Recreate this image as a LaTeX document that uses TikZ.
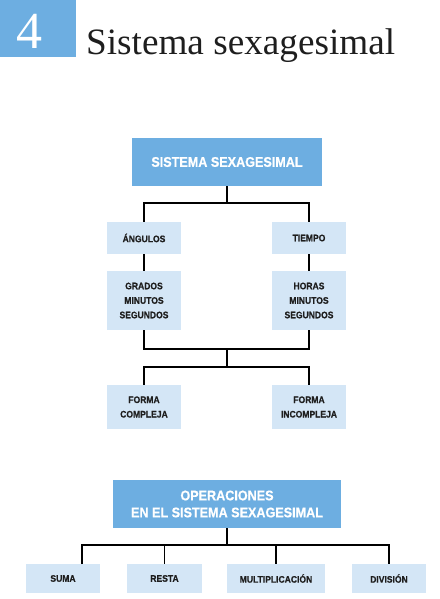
\documentclass[tikz,border=0pt]{standalone}
\usepackage{fontspec}
\setmainfont{Liberation Serif}
\newfontfamily\boxfont[FakeStretch=0.9,FakeBold=0.6]{Liberation Sans Bold}
\newfontfamily\numfont{Liberation Serif}
\definecolor{darkbox}{HTML}{6DAEE1}
\definecolor{lightbox}{HTML}{D4E6F6}
\definecolor{txt}{HTML}{1E1E1E}
\begin{document}
\begin{tikzpicture}[x=1pt,y=-1pt,
  dark/.style={fill=darkbox,draw=none,inner sep=0pt,align=center,text=white,
    font=\boxfont\fontsize{14}{16}\selectfont},
  light/.style={fill=lightbox,draw=none,inner sep=0pt,align=center,text=txt,
    minimum width=74pt,font=\boxfont\fontsize{9.5}{14.5}\selectfont},
  conn/.style={draw=black,line width=1.25pt}]
\useasboundingbox (0,0) rectangle (439,599);
% header
\fill[darkbox] (0,0) rectangle (76,57);
\node[anchor=base west,inner sep=0pt,text=white,font=\numfont\fontsize{52}{52}\selectfont] (num) at (16,49) {4};
\node[anchor=base west,inner sep=0pt,text=txt,font=\fontsize{37.2}{40}\selectfont] (title) at (86,55) {Sistema sexagesimal};
% top tree
\node[dark,minimum width=190pt,minimum height=48pt] (top) at (227,162) {SISTEMA SEXAGESIMAL};
\node[light,minimum height=32pt] (ang) at (144,238) {ÁNGULOS};
\node[light,minimum height=32pt] (tiem) at (309,238) {TIEMPO};
\node[light,minimum height=59pt] (grad) at (144,300.5) {GRADOS\\MINUTOS\\SEGUNDOS};
\node[light,minimum height=59pt] (horas) at (309,300.5) {HORAS\\MINUTOS\\SEGUNDOS};
\node[light,minimum height=44pt] (fc) at (144,407) {FORMA\\COMPLEJA};
\node[light,minimum height=44pt] (fi) at (309,407) {FORMA\\INCOMPLEJA};
\coordinate (j1) at (227,203);
\coordinate (j2) at (227,349);
\coordinate (j3) at (227,367);
\draw[conn] (top.south) -- (j1);
\draw[conn] (ang.north) |- (j1) -| (tiem.north);
\draw[conn] (ang) -- (grad);
\draw[conn] (tiem) -- (horas);
\draw[conn] (grad.south) |- (j2) -| (horas.south);
\draw[conn] (j2) -- (j3);
\draw[conn] (fc.north) |- (j3) -| (fi.north);
% bottom tree
\node[dark,minimum width=228pt,minimum height=48pt,
  font=\boxfont\fontsize{14}{17}\selectfont] (ops) at (227,504) {OPERACIONES\\EN EL SISTEMA SEXAGESIMAL};
\node[light,minimum height=29pt] (suma) at (63,578.5) {SUMA};
\node[light,minimum width=75pt,minimum height=29pt] (resta) at (164.5,578.5) {RESTA};
\node[light,minimum width=98pt,minimum height=29pt] (mult) at (276,578.5) {MULTIPLICACIÓN};
\node[light,minimum height=29pt] (div) at (389,578.5) {DIVISIÓN};
\coordinate (j4) at (227,545);
\coordinate (sa) at (82,564);
\draw[conn] (ops.south) -- (j4);
\draw[conn] (sa) |- (j4) -| (div.north);
\draw[conn] (resta.north) -- (resta.north |- j4);
\draw[conn] (mult.north) -- (mult.north |- j4);
\end{tikzpicture}
\end{document}
